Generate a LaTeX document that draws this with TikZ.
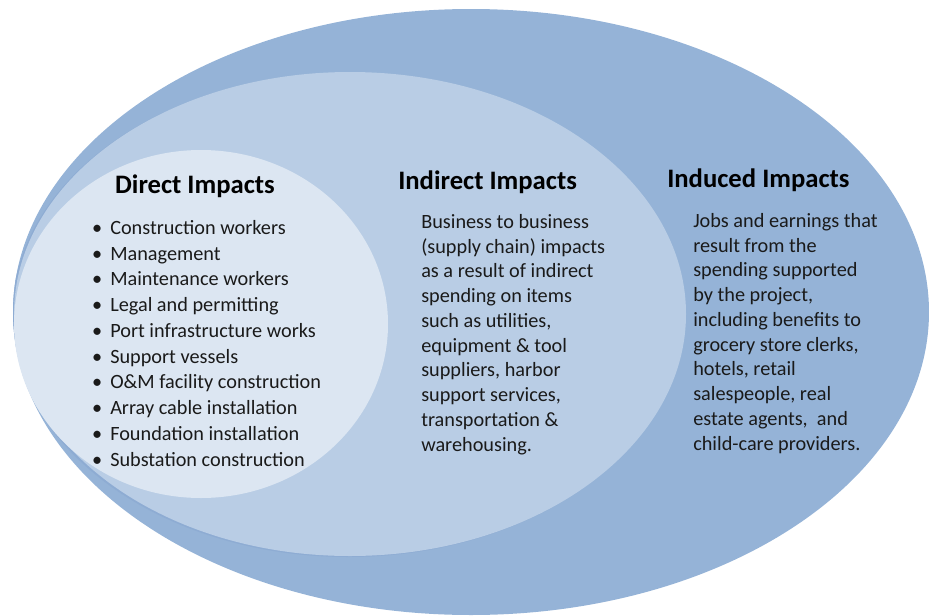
\documentclass[tikz,border=0pt]{standalone}
\usepackage{fontspec}
\setmainfont{Carlito}
\begin{document}
\definecolor{ringout}{HTML}{95B3D7}
\definecolor{ringmid}{HTML}{B9CDE5}
\definecolor{ringin}{HTML}{DCE6F2}
\definecolor{ringshade}{HTML}{8EACD3}
\definecolor{ink}{HTML}{1A1A1A}
\begin{tikzpicture}[x=0.75pt,y=-0.75pt,
  title/.style={inner sep=0pt, text=black, font=\fontsize{20}{24}\selectfont\bfseries},
  body/.style={inner sep=0pt, text=ink, align=left, anchor=base west},
  bodydirect/.style={body, font=\fontsize{15.2}{19.3}\selectfont},
  bodyother/.style={body, font=\fontsize{15.2}{18.55}\selectfont}]
\useasboundingbox (0,0) rectangle (929,615);
\clip (0,0) rectangle (929,615);

% nested impact rings
\fill[ringout] (471,312) ellipse [x radius=343.5pt, y radius=227.25pt];
\begin{scope}
  \clip (471,312) ellipse [x radius=343.5pt, y radius=227.25pt];
  \fill[ringshade] (348,315) ellipse [x radius=252pt, y radius=181.5pt];
\end{scope}
\fill[ringmid] (350,314) ellipse [x radius=252pt, y radius=181.5pt];
\fill[ringin] (201,324) ellipse [x radius=140.25pt, y radius=130.5pt];

% direct impacts (multi-line nodes are anchored at the last baseline)
\node[title, anchor=base] (directtitle) at (195,193) {Direct Impacts};
\node[bodydirect] (directlist) at (110,466) {%
  \llap{•\hspace{6pt}}Construction workers\\
  \llap{•\hspace{6pt}}Management\\
  \llap{•\hspace{6pt}}Maintenance workers\\
  \llap{•\hspace{6pt}}Legal and permitting\\
  \llap{•\hspace{6pt}}Port infrastructure works\\
  \llap{•\hspace{6pt}}Support vessels\\
  \llap{•\hspace{6pt}}O\&M facility construction\\
  \llap{•\hspace{6pt}}Array cable installation\\
  \llap{•\hspace{6pt}}Foundation installation\\
  \llap{•\hspace{6pt}}Substation construction};

% indirect impacts
\node[title, anchor=base west] (indirecttitle) at (398,189) {Indirect Impacts};
\node[bodyother] (indirecttext) at (421,451) {%
  Business to business\\
  (supply chain) impacts\\
  as a result of indirect\\
  spending on items\\
  such as utilities,\\
  equipment \& tool\\
  suppliers, harbor\\
  support services,\\
  transportation \&\\
  warehousing.};

% induced impacts
\node[title, anchor=base west] (inducedtitle) at (667,187) {Induced Impacts};
\node[bodyother] (inducedtext) at (693,450) {%
  Jobs and earnings that\\
  result from the\\
  spending supported\\
  by the project,\\
  including benefits to\\
  grocery store clerks,\\
  hotels, retail\\
  salespeople, real\\
  estate agents,\ \ and\\
  child-care providers.};
\end{tikzpicture}
\end{document}
